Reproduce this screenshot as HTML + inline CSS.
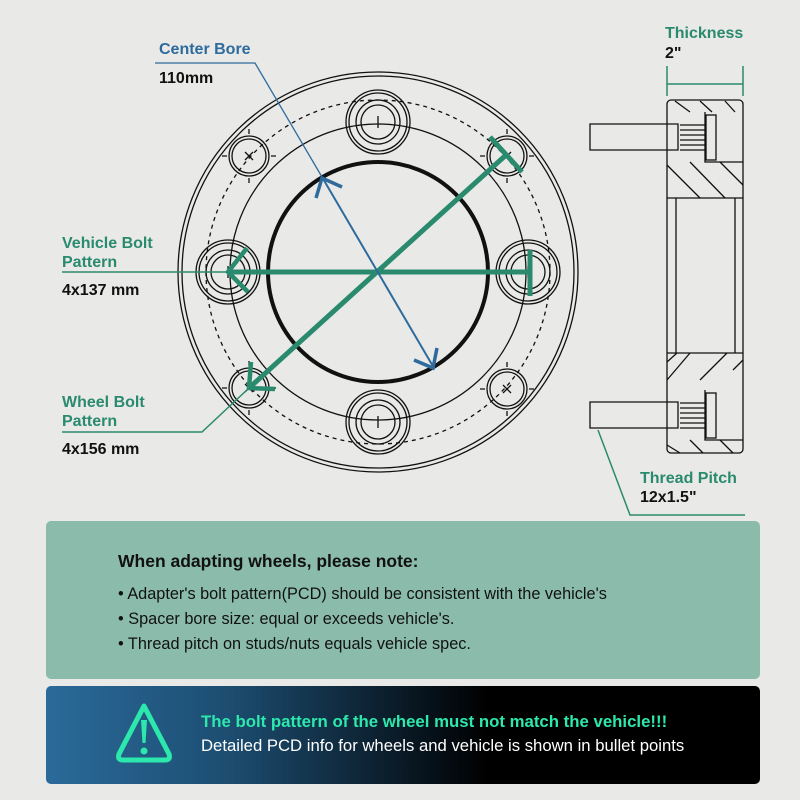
<!DOCTYPE html>
<html><head><meta charset="utf-8"><style>
body{margin:0;width:800px;height:800px;background:#e9e9e8;overflow:hidden;position:relative;font-family:"Liberation Sans",sans-serif}
.t{position:absolute;font-weight:bold;font-size:16px;line-height:19px;white-space:nowrap}
.g{color:#2a8a6e}.b{color:#2e6b9c}.k{color:#111}
#p1{position:absolute;left:46px;top:521px;width:714px;height:158px;background:#8bbcab;border-radius:5px}
#p2{position:absolute;left:46px;top:686px;width:714px;height:98px;border-radius:5px;background:linear-gradient(90deg,#2a6a9a 0%,#1d4e72 25%,#000 62%,#000 100%)}
</style></head><body>
<svg width="800" height="520" style="position:absolute;left:0;top:0" xmlns="http://www.w3.org/2000/svg">
<defs>
<g id="lb" fill="none" stroke="#111" stroke-width="1.3">
<circle r="32"/><circle r="29"/><circle r="22"/><circle r="17"/>
<path d="M0 -6V6"/>
</g>
<g id="sb" fill="none" stroke="#111" stroke-width="1.3"><circle r="20"/><circle r="17"/><path d="M0 -27V-22M0 22V27M-27 0H-22M22 0H27M-4 -4L4 4M-4 4L4 -4"/></g>
</defs>
<g fill="none" stroke="#111" stroke-width="1.3">
<circle cx="378" cy="272" r="200"/><circle cx="378" cy="272" r="196"/>
<circle cx="378" cy="272" r="172" stroke-dasharray="4 4"/>
<circle cx="378" cy="272" r="148"/>
<circle cx="378" cy="272" r="110" stroke-width="4"/>
</g>
<use href="#lb" x="378" y="122"/><use href="#lb" x="378" y="422"/><use href="#lb" x="228" y="272"/><use href="#lb" x="528" y="272"/>
<use href="#sb" x="249" y="156"/><use href="#sb" x="507" y="156"/><use href="#sb" x="249" y="388"/><use href="#sb" x="507" y="389"/>
<g fill="none" stroke="#111" stroke-width="1.3">
<rect x="667" y="100" width="76" height="353" rx="4"/>
<path d="M667 198H743M667 353H743M676 198V353M735 198V353"/>
<path d="M705 112V162H743M705 390V440H743"/>
<rect x="706" y="115" width="10" height="45"/><rect x="706" y="393" width="10" height="45"/>
<path d="M590 124H678V150H590ZM680 125H706M680 130H706M680 135H706M680 140H706M680 145H706M680 150H706"/>
<path d="M590 402H678V428H590ZM680 403H706M680 408H706M680 413H706M680 418H706M680 423H706M680 428H706"/>
<path d="M675 101L690 112M700 101L712 112M725 101L735 112M667 165L700 198M690 162L725 198M720 162L743 185M667 380L690 353M667 362L677 353M700 380L727 353M733 370L743 360M667 445L680 453M690 440L703 453M720 440L733 453"/>
</g>
<g stroke="#2a8a6e" stroke-width="1.5" fill="none">
<path d="M667 66V96M743 66V96M667 84H743"/>
<path d="M598 430L630 515H745"/>
<path d="M62 272H228"/>
<path d="M62 432H202L249 388"/>
</g>
<g stroke="#2a8a6e" stroke-width="5" fill="none">
<path d="M228 272H530M530 250V296"/>
<path d="M249 388L506 155M490 137L522 172"/>
<path d="M247 248L228 272L248 292" stroke-width="4.5"/>
<path d="M251 362L249 388L275 389" stroke-width="4.5"/>
</g>
<g stroke="#2e6b9c" fill="none">
<path d="M155 63H255L322 177" stroke-width="1.3"/>
<path d="M322 177L434 368" stroke-width="2"/>
<path d="M316 198L322 178L342 187M414 360L433 368L437 348" stroke-width="3.5"/>
</g>
</svg>
<div class="t b" style="left:159px;top:40px">Center Bore</div>
<div class="t k" style="left:159px;top:69px">110mm</div>
<div class="t g" style="left:62px;top:234px">Vehicle Bolt<br>Pattern</div>
<div class="t k" style="left:62px;top:281px">4x137 mm</div>
<div class="t g" style="left:62px;top:393px">Wheel Bolt<br>Pattern</div>
<div class="t k" style="left:62px;top:440px">4x156 mm</div>
<div class="t g" style="left:665px;top:24px">Thickness</div>
<div class="t k" style="left:665px;top:44px">2"</div>
<div class="t g" style="left:640px;top:469px">Thread Pitch</div>
<div class="t k" style="left:640px;top:488px">12x1.5"</div>
<div id="p1">
<div style="position:absolute;left:72px;top:30px;font-size:17.5px;font-weight:bold;color:#111">When adapting wheels, please note:</div>
<div style="position:absolute;left:72px;top:61px;font-size:16.3px;line-height:25px;color:#111;white-space:nowrap">• Adapter's bolt pattern(PCD) should be consistent with the vehicle's<br>• Spacer bore size: equal or exceeds vehicle's.<br>• Thread pitch on studs/nuts equals vehicle spec.</div>
</div>
<div id="p2">
<svg width="60" height="70" style="position:absolute;left:68px;top:12px"><path d="M30 8L55 56Q57 62 51 62H9Q3 62 5 56Z" fill="none" stroke="#2de8ac" stroke-width="5" stroke-linejoin="round"/><path d="M27 22H33L31.5 45H28.5Z" fill="#2de8ac"/><circle cx="30" cy="53" r="3.5" fill="#2de8ac"/></svg>
<div style="position:absolute;left:155px;top:26px;font-size:16.8px;font-weight:bold;color:#2de8ac;white-space:nowrap">The bolt pattern of the wheel must not match the vehicle!!!</div>
<div style="position:absolute;left:155px;top:50px;font-size:16.7px;color:#fff;white-space:nowrap">Detailed PCD info for wheels and vehicle is shown in bullet points</div>
</div>
</body></html>
